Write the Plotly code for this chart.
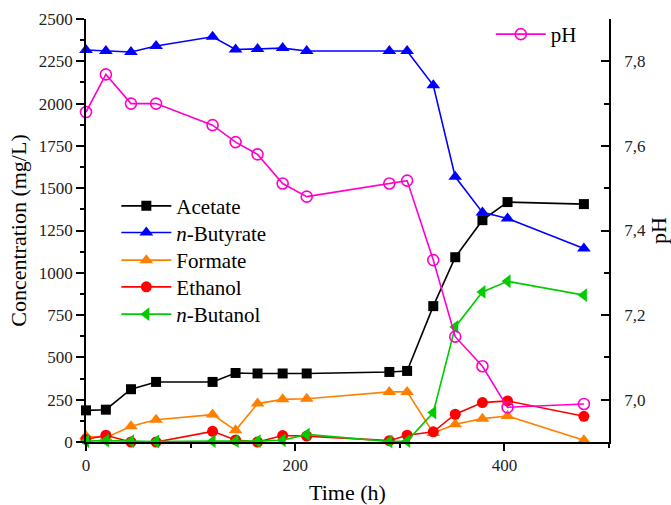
import plotly.graph_objects as go

time_h = [0, 19, 43, 67, 121, 143, 164, 188, 211, 290, 307, 332, 353, 379, 403, 476]
acetate = [187, 191, 312, 355, 355, 408, 405, 405, 405, 414, 420, 803, 1092, 1311, 1418, 1406]
butyrate = [2317, 2311, 2305, 2340, 2395, 2320, 2322, 2328, 2311, 2311, 2311, 2108, 1567, 1357, 1321, 1144]
formate = [35, 25, 93, 132, 162, 69, 227, 252, 256, 296, 296, 53, 105, 138, 154, 10]
ethanol = [15, 40, 0, 0, 63, 12, 0, 38, 35, 8, 40, 60, 164, 233, 243, 152]
butanol = [5, 8, 5, 3, 5, 5, 5, 10, 45, 3, 5, 174, 680, 887, 950, 868]
ph = [7.68, 7.769, 7.70, 7.70, 7.649, 7.609, 7.580, 7.511, 7.480, 7.511, 7.518, 7.330, 7.149, 7.079, 6.982, 6.990]

ph_tickvals = [7.0, 7.2, 7.4, 7.6, 7.8]
ph_ticktext = ["7,0", "7,2", "7,4", "7,6", "7,8"]

FONT = "Liberation Serif"
W, H = 671, 505
ML, MR, MT, MB = 86, 62, 19, 63
PH_ = H - MT - MB

series = [
    ("Acetate", acetate, "#000000", "square", 10),
    ("<i>n</i>-Butyrate", butyrate, "#0000FF", "triangle-up", 12),
    ("Formate", formate, "#FF8000", "triangle-up", 12),
    ("Ethanol", ethanol, "#FF0000", "circle", 11),
    ("<i>n</i>-Butanol", butanol, "#00CC00", "triangle-left", 12),
]
# legend row centres (px from top) for the concentration legend entries
legend_rows = [206.7, 233.3, 261.0, 287.7, 315.0]


def legend_y(center_px):
    top = center_px - 21
    return (H - MB - top) / PH_


fig = go.Figure()
legends = {}
for i, (name, vals, color, sym, size) in enumerate(series):
    key = "legend" if i == 0 else f"legend{i + 2}"
    fig.add_trace(go.Scatter(
        x=time_h, y=vals, name=name, mode="lines+markers",
        line=dict(color=color, width=1.6),
        marker=dict(symbol=sym, size=size, color=color),
        cliponaxis=False, legend=key,
    ))
    legends[key] = dict(
        x=0.058, y=legend_y(legend_rows[i]), xanchor="left", yanchor="top",
        font=dict(size=21, family=FONT, color="black"),
        bgcolor="rgba(0,0,0,0)", itemwidth=50,
    )

fig.add_trace(go.Scatter(
    x=time_h, y=ph, name="pH", mode="lines+markers", yaxis="y2",
    line=dict(color="#FF00CC", width=1.6),
    marker=dict(symbol="circle-open", size=11, color="#FF00CC", line=dict(width=1.6)),
    cliponaxis=False, legend="legend2",
))
legends["legend2"] = dict(
    x=0.774, y=legend_y(35), xanchor="left", yanchor="top",
    font=dict(size=21, family=FONT, color="black"),
    bgcolor="rgba(0,0,0,0)", itemwidth=50,
)

fig.update_layout(
    width=W, height=H,
    margin=dict(l=ML, r=MR, t=MT, b=MB, autoexpand=False),
    paper_bgcolor="white", plot_bgcolor="white",
    font=dict(family=FONT, size=17, color="#222222"),
    xaxis=dict(
        range=[0, 500], tick0=0, dtick=200, ticks="outside", ticklen=7, tickwidth=1.5,
        showline=True, linecolor="black", linewidth=1.5, showgrid=False, zeroline=False,
        minor=dict(dtick=100, ticks="outside", ticklen=4, tickwidth=1.5, tickcolor="black"),
        tickcolor="black", automargin=True,
        title=dict(text="Time (h)", font=dict(size=22, family=FONT, color="black"), standoff=18),
    ),
    yaxis=dict(
        range=[0, 2500], tick0=0, dtick=250, ticks="outside", ticklen=8, tickwidth=1.5,
        showline=True, linecolor="black", linewidth=1.5, showgrid=False, zeroline=False,
        minor=dict(dtick=125, ticks="outside", ticklen=4, tickwidth=1.5, tickcolor="black"),
        tickcolor="black", automargin=True,
        title=dict(text="Concentration (mg/L)", font=dict(size=22, family=FONT, color="black"), standoff=6),
    ),
    yaxis2=dict(
        overlaying="y", side="right", range=[6.9, 7.9],
        tickmode="array", tickvals=ph_tickvals, ticktext=ph_ticktext,
        ticks="inside", ticklen=8, tickwidth=1.5, tickcolor="black", ticklabelstandoff=10,
        showline=True, linecolor="black", linewidth=1.5, showgrid=False, zeroline=False,
        minor=dict(tick0=6.9, dtick=0.1, ticks="inside", ticklen=5, tickwidth=1.5, tickcolor="black"),
        automargin=False,
        title=dict(text="pH", font=dict(size=22, family=FONT, color="black")),
    ),
    showlegend=True,
    **legends,
)

fig.write_html("out.html")
